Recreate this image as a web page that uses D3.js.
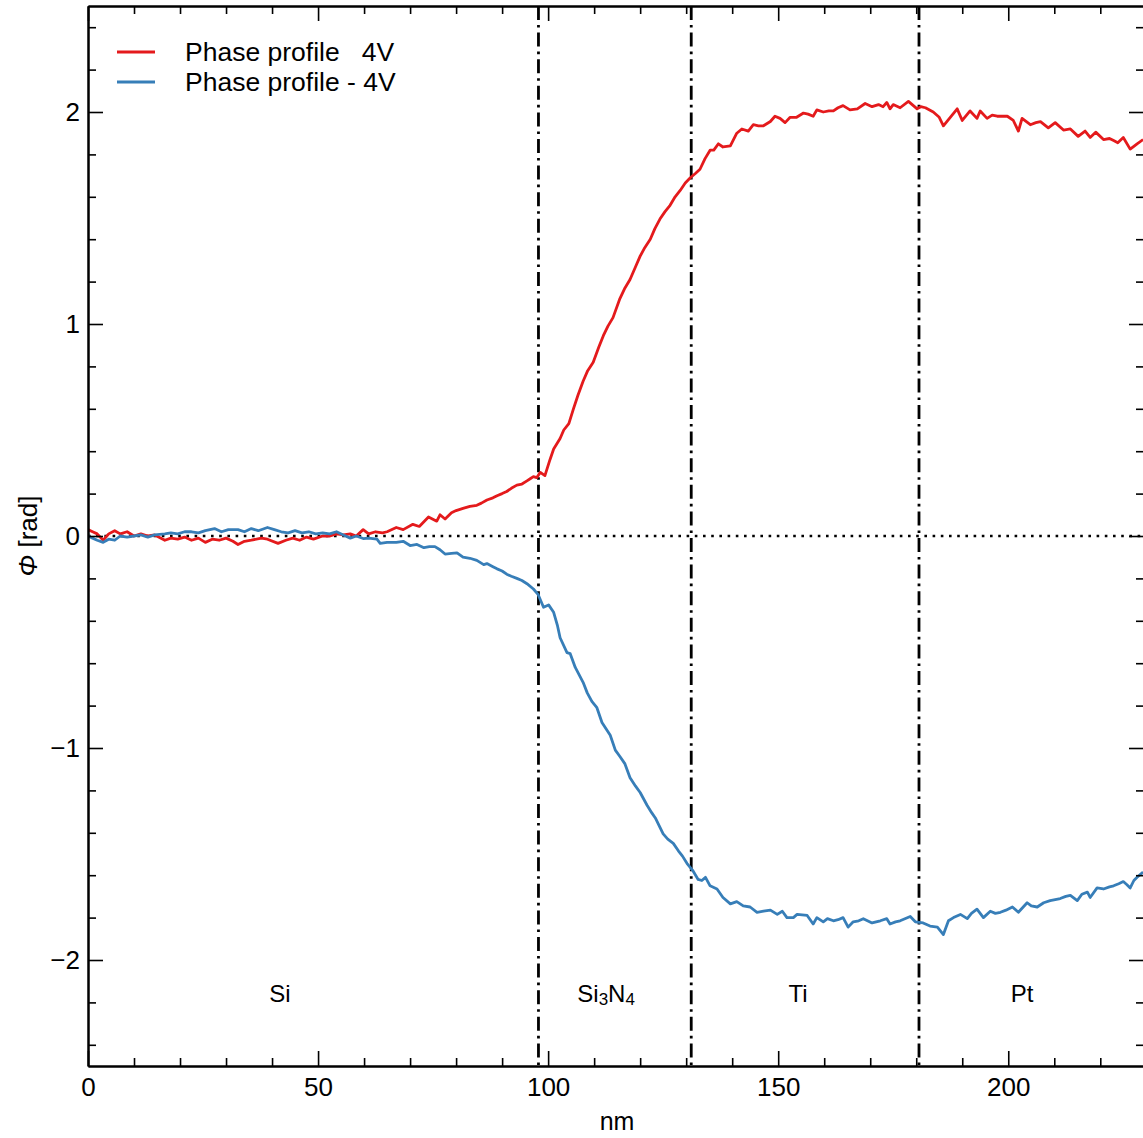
<!DOCTYPE html>
<html>
<head>
<meta charset="utf-8">
<script src="https://cdn.jsdelivr.net/npm/d3@7"></script>
<style>
  html, body { margin: 0; padding: 0; background: #fff; }
  svg { display: block; font-family: "Liberation Sans", Arial, Helvetica, sans-serif; }
</style>
</head>
<body>
<svg id="chart" width="1143" height="1138"></svg>
<script>
// ---------- data ----------
const redX = [0,1,2,3.3,4.5,5.8,7,8.5,10,11.5,13,14.5,16.7,18,19.5,21,22.5,24,25.5,27,28.5,30,31.5,32.6,34,35.5,37.7,39,41.3,43,44.5,46,47.5,49,51,52.6,54,55.5,57,58.3,59.8,61,62.5,64,65,67,68.5,70.6,72,74,75.8,76.5,77.6,79,80,81.5,83,84.5,85.5,86.7,88,88.9,90,91,92,93.2,94.3,95.4,96.1,96.8,97.5,98.3,99.3,100.4,101.2,102.6,103.4,104.5,105.5,106.5,107.6,108.6,109.8,111,112,113,114.1,115.6,116.7,117.8,119,120,121,122.2,123.2,124.3,125.4,126.5,127.6,128.7,129.8,130.9,132,133,134.1,135.2,136,137,138,139.6,141,142.1,143.5,144.6,145.7,146.8,148.3,149.3,150.4,151.5,152.6,154,155.5,156.5,157.6,158.4,159.8,161,162,163,164.1,165.6,167.2,168.9,170.4,171.8,172.8,173.6,174.3,175,176.5,178.3,180.2,181,182,183.7,185,185.9,187.4,188.9,190,191.7,193.2,193.9,195.4,196.5,197.6,199.8,201.1,202.2,203,204.8,206,207,208.7,210.2,212,213.5,215.2,216.7,217.8,219,220.7,222,222.9,223.8,225,226.5,228,229.3];
const redY = [0.03,0.02,0.01,-0.02,0.01,0.025,0.01,0.02,0.0,0.01,0.0,0.005,-0.02,-0.01,-0.015,-0.005,-0.02,-0.01,-0.03,-0.015,-0.02,-0.01,-0.025,-0.04,-0.025,-0.02,-0.01,-0.015,-0.035,-0.02,-0.01,-0.02,-0.005,-0.015,0.0,0.0,0.01,0.005,0.01,0.0,0.03,0.01,0.02,0.015,0.02,0.04,0.03,0.055,0.045,0.09,0.07,0.1,0.08,0.11,0.12,0.13,0.14,0.145,0.155,0.17,0.18,0.19,0.2,0.21,0.225,0.24,0.245,0.26,0.27,0.28,0.275,0.30,0.285,0.36,0.41,0.46,0.50,0.53,0.60,0.665,0.73,0.78,0.82,0.89,0.945,0.99,1.03,1.12,1.17,1.21,1.27,1.32,1.36,1.40,1.45,1.495,1.53,1.56,1.60,1.63,1.665,1.69,1.71,1.73,1.78,1.82,1.82,1.85,1.835,1.84,1.90,1.92,1.91,1.94,1.935,1.935,1.955,1.98,1.97,1.95,1.975,1.975,1.995,1.99,1.98,2.01,2.0,2.005,2.005,2.02,2.03,2.01,2.015,2.04,2.025,2.035,2.025,2.045,2.015,2.035,2.02,2.05,2.015,2.025,2.02,2.0,1.975,1.935,1.975,2.015,1.96,2.005,1.97,2.005,1.97,1.985,1.98,1.98,1.96,1.91,1.97,1.94,1.95,1.955,1.925,1.95,1.915,1.92,1.885,1.91,1.88,1.905,1.87,1.875,1.865,1.855,1.88,1.825,1.85,1.87];

const blueX = [0,1,2,3.3,4.5,5.8,7,8.5,10,11.5,13,14.5,16.7,18,19.5,21,22.5,24,25.5,27.5,29,30.5,32.6,34,35.5,37,39,40.5,42,43.5,45,46.5,48,49.5,51,52.5,54,55.5,57,58.3,59.8,61,62.8,63.5,65,67,68.5,70,71.5,73,74.2,75.4,76.5,77.6,79,80.2,81.5,83,84.5,86,86.7,88,88.9,90,91,92,93.2,94.3,95.4,96.8,97.8,99,100.1,101.2,102,102.6,104.1,104.8,105.9,107.6,108.5,109.5,110.6,111.7,113.5,114.6,115.6,116.7,117.8,119,120,121.5,122.5,123.3,124.2,125,126,127.2,128.3,129.2,130.2,131.5,132.6,133.4,134.2,135.2,136.7,138,139.6,141,142.4,143.9,145.4,146.8,148.3,149.8,150.9,151.9,153.3,154.1,156.3,157.6,158.4,159.8,160.7,162,163,164.1,165.2,166.3,167.5,168.5,170.4,172.2,173.6,174.3,175.5,176.5,178.7,179.8,181.5,183,184.6,185.9,187,188.1,189.6,191.1,192,193.2,194.6,196.1,197.2,198.3,199.5,200.9,202.2,204.1,205,206.3,207.7,209.1,210.2,211.3,212.5,213.5,215,216,217.2,217.8,219.3,220.7,222,222.9,224,225,225.8,226.5,227.3,228,229.3];
const blueY = [0.0,-0.01,-0.02,-0.03,-0.015,-0.02,0.0,-0.005,0.0,0.005,-0.005,0.005,0.01,0.015,0.01,0.02,0.02,0.015,0.025,0.035,0.02,0.03,0.03,0.02,0.035,0.025,0.04,0.03,0.02,0.015,0.025,0.015,0.02,0.01,0.015,0.01,0.02,0.005,-0.01,0.0,-0.012,-0.01,-0.015,-0.035,-0.03,-0.03,-0.025,-0.045,-0.04,-0.055,-0.05,-0.05,-0.065,-0.085,-0.082,-0.08,-0.1,-0.105,-0.115,-0.135,-0.13,-0.145,-0.155,-0.165,-0.18,-0.19,-0.2,-0.21,-0.225,-0.25,-0.275,-0.336,-0.325,-0.36,-0.42,-0.48,-0.55,-0.555,-0.62,-0.69,-0.74,-0.78,-0.81,-0.88,-0.94,-1.01,-1.04,-1.075,-1.14,-1.18,-1.21,-1.27,-1.305,-1.33,-1.37,-1.405,-1.43,-1.45,-1.485,-1.51,-1.545,-1.58,-1.62,-1.625,-1.61,-1.65,-1.665,-1.705,-1.735,-1.725,-1.745,-1.75,-1.775,-1.77,-1.765,-1.785,-1.77,-1.80,-1.80,-1.785,-1.79,-1.83,-1.80,-1.82,-1.805,-1.815,-1.81,-1.80,-1.845,-1.82,-1.815,-1.805,-1.825,-1.815,-1.805,-1.83,-1.82,-1.815,-1.795,-1.82,-1.825,-1.84,-1.845,-1.88,-1.815,-1.80,-1.785,-1.805,-1.78,-1.76,-1.8,-1.77,-1.78,-1.775,-1.765,-1.75,-1.775,-1.73,-1.745,-1.75,-1.73,-1.72,-1.715,-1.71,-1.70,-1.695,-1.72,-1.69,-1.68,-1.705,-1.66,-1.665,-1.655,-1.65,-1.64,-1.63,-1.645,-1.66,-1.625,-1.61,-1.585];

const seriesNames = ["Phase profile   4V", "Phase profile - 4V"];
const seriesColors = ["#e41a1c", "#377eb8"];
const boundaries = [97.9, 131.1, 180.6];
const regionNames = ["Si", "Si3N4", "Ti", "Pt"];
const regionCenters = [41.7, 112.6, 154.3, 203.0];
const regionLabelY = -2.2;
const xMajorTicks = [0, 50, 100, 150, 200];
const yMajorTicks = [-2, -1, 0, 1, 2];
const xDomain = [0, 229.5];
const yDomain = [-2.5, 2.5];

// ---------- layout ----------
const svg = d3.select("#chart");
const pL = 88, pR = 1144, pT = 6, pB = 1066;
const x = d3.scaleLinear().domain(xDomain).range([pL, pR]);
const y = d3.scaleLinear().domain(yDomain).range([pB, pT]);
const FS = "26px";

const fmt = d => (d < 0 ? "\u2212" + Math.abs(d) : String(d));
const xMinor = d3.range(0, 230, 10).filter(v => v % 50 !== 0);
const yMinor = d3.range(-24, 25, 2).map(v => v / 10).filter(v => Math.abs(v - Math.round(v)) > 1e-6);

// clip
svg.append("defs").append("clipPath").attr("id", "clip")
  .append("rect").attr("x", pL).attr("y", pT).attr("width", pR - pL).attr("height", pB - pT);

// zero dotted line
svg.append("line")
  .attr("x1", x(xDomain[0])).attr("x2", x(xDomain[1]))
  .attr("y1", y(0)).attr("y2", y(0))
  .attr("stroke", "#000").attr("stroke-width", 2.6)
  .attr("stroke-dasharray", "2.6,5.6");

// region boundary dash-dot lines
svg.selectAll("line.bound").data(boundaries).enter().append("line")
  .attr("class", "bound")
  .attr("x1", d => x(d)).attr("x2", d => x(d))
  .attr("y1", y(yDomain[1])).attr("y2", y(yDomain[0]))
  .attr("stroke", "#000").attr("stroke-width", 2.8)
  .attr("stroke-dasharray", "14,5,2.6,5");

// curves
const line = d3.line().x(d => x(d[0])).y(d => y(d[1]));
const red = redX.map((v, i) => [v, redY[i]]);
const blue = blueX.map((v, i) => [v, blueY[i]]);
const g = svg.append("g").attr("clip-path", "url(#clip)");
[red, blue].forEach((data, i) => {
  g.append("path").datum(data)
    .attr("d", line)
    .attr("fill", "none")
    .attr("stroke", seriesColors[i])
    .attr("stroke-width", 2.8)
    .attr("stroke-linejoin", "round");
});

// axes
function styleAxis(sel) {
  sel.selectAll("path.domain").attr("stroke", "#000").attr("stroke-width", 2);
  sel.selectAll(".tick line").attr("stroke", "#000").attr("stroke-width", 1.6);
  sel.selectAll(".tick text").attr("fill", "#000")
    .style("font-family", '"Liberation Sans", Arial, sans-serif').style("font-size", FS);
}
const axB = svg.append("g").attr("transform", `translate(0,${pB})`)
  .call(d3.axisBottom(x).tickValues(xMajorTicks).tickSize(-15).tickPadding(12).tickFormat(fmt).tickSizeOuter(0));
styleAxis(axB);
const axBm = svg.append("g").attr("transform", `translate(0,${pB})`)
  .call(d3.axisBottom(x).tickValues(xMinor).tickSize(-8).tickFormat("").tickSizeOuter(0));
styleAxis(axBm);
const axT = svg.append("g").attr("transform", `translate(0,${pT})`)
  .call(d3.axisTop(x).tickValues(xMajorTicks).tickSize(-15).tickFormat("").tickSizeOuter(0));
styleAxis(axT);
const axTm = svg.append("g").attr("transform", `translate(0,${pT})`)
  .call(d3.axisTop(x).tickValues(xMinor).tickSize(-8).tickFormat("").tickSizeOuter(0));
styleAxis(axTm);
const axL = svg.append("g").attr("transform", `translate(${pL},0)`)
  .call(d3.axisLeft(y).tickValues(yMajorTicks).tickSize(-15).tickPadding(8).tickFormat(fmt).tickSizeOuter(0));
styleAxis(axL);
const axLm = svg.append("g").attr("transform", `translate(${pL},0)`)
  .call(d3.axisLeft(y).tickValues(yMinor).tickSize(-8).tickFormat("").tickSizeOuter(0));
styleAxis(axLm);
const axR = svg.append("g").attr("transform", `translate(${pR},0)`)
  .call(d3.axisRight(y).tickValues(yMajorTicks).tickSize(-15).tickFormat("").tickSizeOuter(0));
styleAxis(axR);
const axRm = svg.append("g").attr("transform", `translate(${pR},0)`)
  .call(d3.axisRight(y).tickValues(yMinor).tickSize(-8).tickFormat("").tickSizeOuter(0));
styleAxis(axRm);

// axis titles
svg.append("text").attr("x", 617).attr("y", 1130).attr("text-anchor", "middle")
  .style("font-size", "25px").attr("fill", "#000").text("nm");
const yt = svg.append("text").attr("transform", `translate(37,${y(0)}) rotate(-90)`)
  .attr("text-anchor", "middle").style("font-size", FS).attr("fill", "#000");
yt.append("tspan").style("font-style", "italic").text("\u03A6");
yt.append("tspan").text(" [rad]");

// region labels
regionNames.forEach((name, i) => {
  const t = svg.append("text").attr("x", x(regionCenters[i])).attr("y", y(regionLabelY))
    .attr("text-anchor", "middle").style("font-size", "24px").attr("fill", "#000");
  if (name === "Si3N4") {
    t.append("tspan").text("Si");
    t.append("tspan").attr("dy", 3).style("font-size", "17px").text("3");
    t.append("tspan").attr("dy", -3).text("N");
    t.append("tspan").attr("dy", 3).style("font-size", "17px").text("4");
  } else {
    t.text(name);
  }
});

// legend
seriesNames.forEach((name, i) => {
  const ly = 52 + i * 30;
  svg.append("line").attr("x1", 117).attr("x2", 155).attr("y1", ly).attr("y2", ly)
    .attr("stroke", seriesColors[i]).attr("stroke-width", 2.8);
  svg.append("text").attr("x", 185).attr("y", ly + 9)
    .style("font-size", "26.5px").style("white-space", "pre").attr("xml:space", "preserve")
    .attr("fill", "#000").text(name);
});
</script>
</body>
</html>
